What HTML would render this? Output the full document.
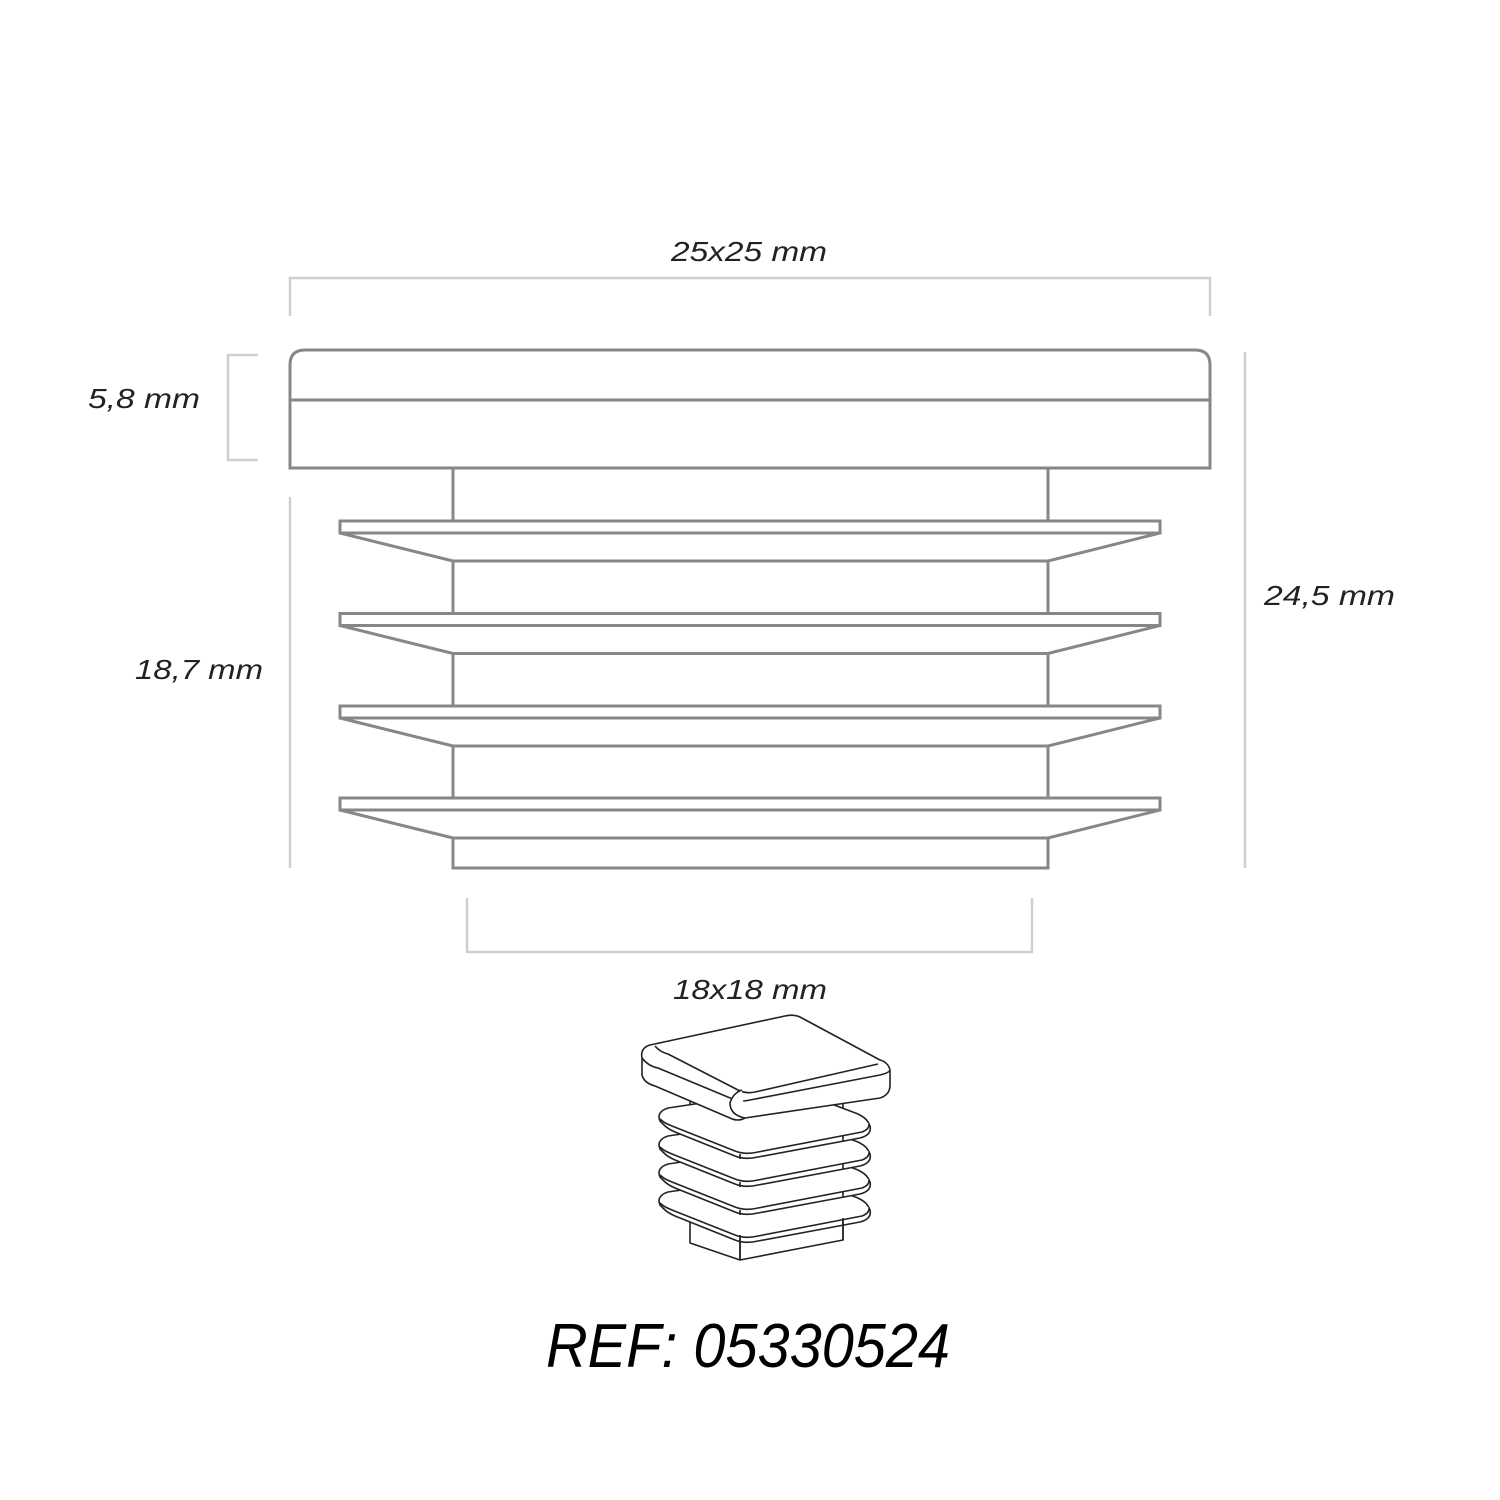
<!DOCTYPE html>
<html><head><meta charset="utf-8"><style>
html,body{margin:0;padding:0;background:#fff;}
svg{display:block}
text{font-family:"Liberation Sans",sans-serif;font-style:italic;}
</style></head><body>
<svg width="1500" height="1500" viewBox="0 0 1500 1500" xmlns="http://www.w3.org/2000/svg">
<g fill="none" stroke="#cfcfcf" stroke-width="2.5">
<path d="M290 316 V278 H1210 V316"/>
<path d="M258 355 H228 V460 H258"/>
<path d="M290 497 V868"/>
<path d="M1245 352 V868"/>
<path d="M467 898 V952 H1032 V898"/>
</g>
<g fill="none" stroke="#878787" stroke-width="3">
<path d="M290 468 V365 Q290 350 305 350 H1195 Q1210 350 1210 365 V468 Z"/>
<path d="M290 400 H1210"/>
<path d="M453 468 V521 M1048 468 V521"/>
<g id="fin">
<path d="M340 521 H1160 V533 H340 Z"/>
<path d="M340 533 L453 561 H1048 L1160 533"/>
</g>
<use href="#fin" y="92.5"/>
<use href="#fin" y="185"/>
<use href="#fin" y="277"/>
<path d="M453 561 V613 M1048 561 V613 M453 653 V706 M1048 653 V706 M453 746 V798 M1048 746 V798"/>
<path d="M453 838 V868 H1048 V838"/>
</g>
<g fill="#222" font-size="28">
<text x="671" y="261" textLength="156" lengthAdjust="spacingAndGlyphs">25x25 mm</text>
<text x="88" y="408" textLength="112" lengthAdjust="spacingAndGlyphs">5,8 mm</text>
<text x="135" y="679" textLength="128" lengthAdjust="spacingAndGlyphs">18,7 mm</text>
<text x="1264" y="605" textLength="131" lengthAdjust="spacingAndGlyphs">24,5 mm</text>
<text x="673" y="999" textLength="154" lengthAdjust="spacingAndGlyphs">18x18 mm</text>
</g>
<text x="546" y="1367" font-size="62" fill="#000" textLength="404" lengthAdjust="spacingAndGlyphs">REF: 05330524</text>
<g fill="#fff" stroke="#222" stroke-width="1.6" stroke-linejoin="round">
<path d="M690 1100 L843 1095 V1240 L740 1260 L690 1243 Z"/>
<path d="M740 1120 V1260"/>
<g id="sf">
<path d="M668 1192 Q656 1196 660 1205 L664 1209 Q668 1213 675 1216 L735 1240 Q745 1244 758 1241 L860 1222 Q872 1219 870 1210 L868 1206 Q866 1202 858 1198 L800 1176 Q792 1173 782 1175 Z"/>
<path d="M660 1203 Q664 1207 672 1210 L735 1235 Q745 1239 758 1236 L862 1216 Q870 1213 869 1207"/>
<path d="M843 1219 V1225 M740 1238 V1243"/>
</g>
<use href="#sf" y="-28"/>
<use href="#sf" y="-56"/>
<use href="#sf" y="-84"/>
<path d="M740 1235 V1260 M843 1218 V1240"/>
<path d="M650 1045 Q640 1048 642 1058 V1075 Q644 1083 655 1086 L730 1118 Q738 1122 745 1118 L880 1098 Q890 1095 890 1085 V1070 Q888 1062 880 1060 L800 1017 Q793 1014 785 1016 Z"/>
<path d="M642 1058 Q648 1066 658 1068 L735 1100 Q742 1102 750 1100 L880 1075 Q889 1073 890 1070"/>
<path d="M655 1046 Q660 1052 668 1054 L738 1090 Q746 1094 755 1092 L878 1064"/>
<path d="M745 1118 Q730 1115 730 1103 Q733 1093 742 1090"/>
</g>
</svg>
</body></html>
